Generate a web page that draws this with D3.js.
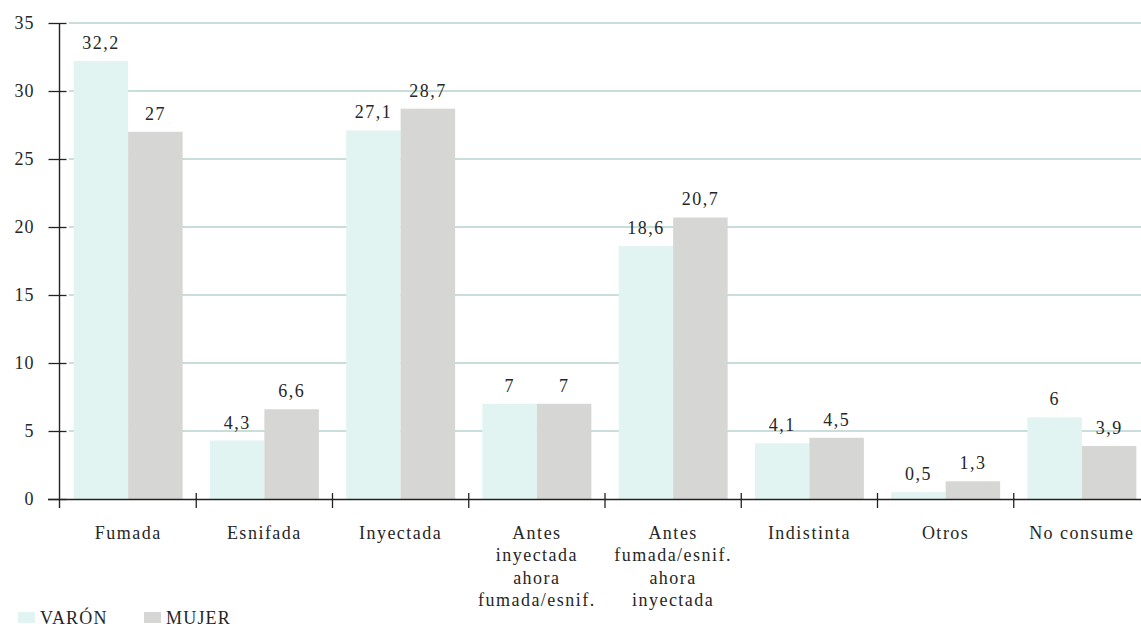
<!DOCTYPE html>
<html>
<head>
<meta charset="utf-8">
<script src="https://cdn.jsdelivr.net/npm/d3@7"></script>
<style>
  html, body { margin: 0; padding: 0; background: #fff; }
  svg { display: block; }
  text { font-family: "Liberation Serif", serif; fill: #262626; }
</style>
</head>
<body>
<svg id="chart" width="1141" height="629"></svg>
<script>
// Vía de consumo, por sexo (%)
const categories = [
  "Fumada",
  "Esnifada",
  "Inyectada",
  "Antes\ninyectada\nahora\nfumada/esnif.",
  "Antes\nfumada/esnif.\nahora\ninyectada",
  "Indistinta",
  "Otros",
  "No consume"
];
const varon = [32.2, 4.3, 27.1, 7, 18.6, 4.1, 0.5, 6];
const mujer = [27, 6.6, 28.7, 7, 20.7, 4.5, 1.3, 3.9];
const yTicks = [0, 5, 10, 15, 20, 25, 30, 35];
const seriesNames = ["VARÓN", "MUJER"];
const seriesColors = ["#e1f4f1", "#d6d6d4"];

const svg = d3.select("#chart");
const W = 1141;
const FONT = 18;

const x = d3.scaleBand().domain(categories).range([60, 1150]).padding(0);
const sub = d3.scaleBand().domain([0, 1]).range([0, x.bandwidth()])
  .paddingInner(0).paddingOuter(0.25);
const y = d3.scaleLinear().domain([0, 35]).range([499, 23]);

const fmt = v => String(v).replace(".", ",");

// horizontal grid lines (behind the bars)
svg.append("g").selectAll("line")
  .data(yTicks.filter(d => d > 0))
  .join("line")
  .attr("x1", 69).attr("x2", W)
  .attr("y1", d => y(d)).attr("y2", d => y(d))
  .attr("stroke", "#93bdb6").attr("stroke-width", 1.2);

// bars
const rows = categories.map((c, i) => ({ c, vals: [varon[i], mujer[i]] }));
const groups = svg.append("g").selectAll("g")
  .data(rows).join("g")
  .attr("transform", d => `translate(${x(d.c)},0)`);

groups.selectAll("rect")
  .data(d => d.vals.map((v, k) => ({ v, k })))
  .join("rect")
  .attr("x", d => sub(d.k))
  .attr("width", sub.bandwidth())
  .attr("y", d => y(d.v))
  .attr("height", d => y(0) - y(d.v))
  .attr("fill", d => seriesColors[d.k]);

groups.selectAll("text.val")
  .data(d => d.vals.map((v, k) => ({ v, k })))
  .join("text")
  .attr("class", "val")
  .attr("x", d => sub(d.k) + sub.bandwidth() / 2)
  .attr("y", d => y(d.v) - 12)
  .attr("text-anchor", "middle")
  .attr("font-size", FONT)
  .attr("letter-spacing", 1.5)
  .text(d => fmt(d.v));

// y axis
const yAxis = d3.axisLeft(y).tickValues(yTicks).tickSize(11).tickPadding(15)
  .tickFormat(d => d);
const gy = svg.append("g").attr("transform", "translate(59.5,0)").call(yAxis);
gy.select(".domain").remove();
gy.selectAll(".tick line").attr("x1", -11).attr("x2", 7)
  .attr("stroke", "#222").attr("stroke-width", 1.3);
gy.selectAll(".tick text").attr("font-family", "Liberation Serif")
  .attr("font-size", FONT).attr("fill", "#262626").attr("x", -25)
  .attr("letter-spacing", 1);
svg.append("line")
  .attr("x1", 59.5).attr("x2", 59.5)
  .attr("y1", y(35)).attr("y2", y(0) + 9)
  .attr("stroke", "#222").attr("stroke-width", 1.4);

// x axis
svg.append("line")
  .attr("x1", 48).attr("x2", W)
  .attr("y1", y(0) + 0.5).attr("y2", y(0) + 0.5)
  .attr("stroke", "#222").attr("stroke-width", 1.4);
svg.append("g").selectAll("line")
  .data(categories.slice(1))
  .join("line")
  .attr("x1", d => x(d)).attr("x2", d => x(d))
  .attr("y1", y(0) - 6).attr("y2", y(0) + 9)
  .attr("stroke", "#222").attr("stroke-width", 1.3);

// category labels
const labels = svg.append("g").selectAll("text")
  .data(categories).join("text")
  .attr("text-anchor", "middle")
  .attr("font-size", FONT)
  .attr("letter-spacing", 1.5)
  .attr("x", d => x(d) + x.bandwidth() / 2)
  .attr("y", 539);
labels.selectAll("tspan")
  .data(d => d.split("\n").map(t => ({ t, cx: x(d) + x.bandwidth() / 2 })))
  .join("tspan")
  .attr("x", d => d.cx)
  .attr("dy", (d, i) => i === 0 ? 0 : 22.3)
  .text(d => d.t);

// legend
const legendX = [18, 144];
const legend = svg.append("g").selectAll("g")
  .data(seriesNames).join("g")
  .attr("transform", (d, i) => `translate(${legendX[i]},612)`);
legend.append("rect")
  .attr("width", 17).attr("height", 11)
  .attr("fill", (d, i) => seriesColors[i]);
legend.append("text")
  .attr("x", 22).attr("y", 12)
  .attr("font-size", FONT)
  .attr("letter-spacing", 1.2)
  .text(d => d);
</script>
</body>
</html>
